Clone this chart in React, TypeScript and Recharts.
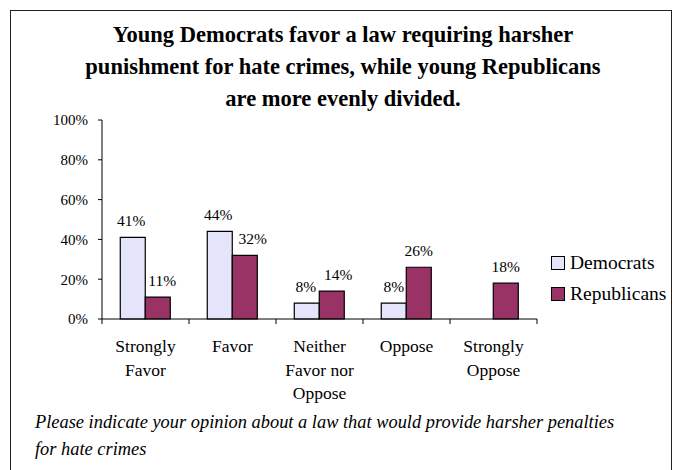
import { BarChart, Bar, XAxis, YAxis, LabelList } from 'recharts';

const categories = ['Strongly\nFavor', 'Favor', 'Neither\nFavor nor\nOppose', 'Oppose', 'Strongly\nOppose'];
const democrats: (number | null)[] = [41, 44, 8, 8, null];
const republicans: number[] = [11, 32, 14, 26, 18];
const yTicks = [0, 20, 40, 60, 80, 100];

// labelShift nudges the value labels sideways like Excel does when they crowd
const series = [
  { key: 'democrats', name: 'Democrats', fill: '#E4E4FB', labelShift: [-1.5, -1.5, -1, 0, 0] },
  { key: 'republicans', name: 'Republicans', fill: '#993366', labelShift: [4.5, 8, 6.5, 0, 0] },
];

const data = categories.map((c, i) => ({
  category: c,
  democrats: democrats[i],
  republicans: republicans[i],
}));

const FONT = '"Liberation Serif", "Times New Roman", serif';

// category label plus Excel-style tick marks on the band edges
function CategoryTick({ x, y, payload, width, visibleTicksCount, index }: any) {
  const lines = String(payload.value).split('\n');
  const half = payload.offset ? payload.offset : width / visibleTicksCount / 2;
  const last = index === visibleTicksCount - 1;
  return (
    <g>
      <line x1={x - half} x2={x - half} y1={y} y2={y + 5} stroke="#000" />
      {last && <line x1={x + half} x2={x + half} y1={y} y2={y + 5} stroke="#000" />}
      <text x={x} y={y} textAnchor="middle" fontSize={17.5} fontFamily={FONT} fill="#000">
        {lines.map((l, i) => (
          <tspan key={i} x={x} dy={i === 0 ? 33 : 23.5}>
            {l}
          </tspan>
        ))}
      </text>
    </g>
  );
}

function makeLabel(shift: number[]) {
  return function ValueLabel({ x, y, width, value, index }: any) {
    if (value == null) return null;
    return (
      <text
        x={Number(x) + Number(width) / 2 + (shift[index] ?? 0)}
        y={Number(y) - 11}
        textAnchor="middle"
        fontSize={15.5}
        fontFamily={FONT}
        fill="#000"
      >
        {value}%
      </text>
    );
  };
}

export default function App() {
  return (
    <div
      style={{
        position: 'fixed',
        left: 0,
        top: 0,
        width: 673,
        height: 470,
        overflow: 'hidden',
        background: '#fff',
        fontFamily: FONT,
      }}
    >
      <div
        style={{
          position: 'absolute',
          left: 10,
          top: 10,
          width: 662,
          height: 480,
          border: '1.5px solid #222',
          boxSizing: 'border-box',
        }}
      />
      <div
        style={{
          position: 'absolute',
          left: 10,
          width: 666,
          top: 19,
          textAlign: 'center',
          fontWeight: 'bold',
          fontSize: 22.5,
          lineHeight: '32px',
        }}
      >
        Young Democrats favor a law requiring harsher
        <br />
        punishment for hate crimes, while young Republicans
        <br />
        are more evenly divided.
      </div>

      <div style={{ position: 'absolute', left: 0, top: 0 }}>
        <BarChart
          width={673}
          height={470}
          data={data}
          margin={{ top: 120, right: 136, bottom: 150, left: 42 }}
          barCategoryGap="21%"
          barGap={0}
        >
          <XAxis
            dataKey="category"
            height={1}
            tickLine={false}
            tickSize={0}
            tickMargin={0}
            axisLine={{ stroke: '#000' }}
            tick={<CategoryTick />}
            interval={0}
          />
          <YAxis
            width={60}
            domain={[0, 100]}
            ticks={yTicks}
            tickFormatter={(v: number) => `${v}%`}
            tickSize={4}
            tickMargin={10}
            axisLine={{ stroke: '#000' }}
            tickLine={{ stroke: '#000' }}
            tick={{ fontSize: 15, fontFamily: FONT, fill: '#000' }}
          />
          {series.map((s) => (
            <Bar
              key={s.key}
              dataKey={s.key}
              name={s.name}
              fill={s.fill}
              stroke="#000"
              strokeWidth={1.2}
              isAnimationActive={false}
            >
              <LabelList dataKey={s.key} content={makeLabel(s.labelShift)} />
            </Bar>
          ))}
        </BarChart>
      </div>

      <div style={{ position: 'absolute', left: 551, top: 247 }}>
        {series.map((s) => (
          <div
            key={s.key}
            style={{ display: 'flex', alignItems: 'center', height: 31.5, fontSize: 19.5, whiteSpace: 'nowrap' }}
          >
            <span
              style={{
                display: 'inline-block',
                width: 12,
                height: 12,
                background: s.fill,
                border: '1px solid #000',
                marginRight: 5,
              }}
            />
            {s.name}
          </div>
        ))}
      </div>

      <div
        style={{
          position: 'absolute',
          left: 35,
          top: 409,
          fontStyle: 'italic',
          fontSize: 18.4,
          lineHeight: '27px',
        }}
      >
        Please indicate your opinion about a law that would provide harsher penalties
        <br />
        for hate crimes
      </div>
    </div>
  );
}
